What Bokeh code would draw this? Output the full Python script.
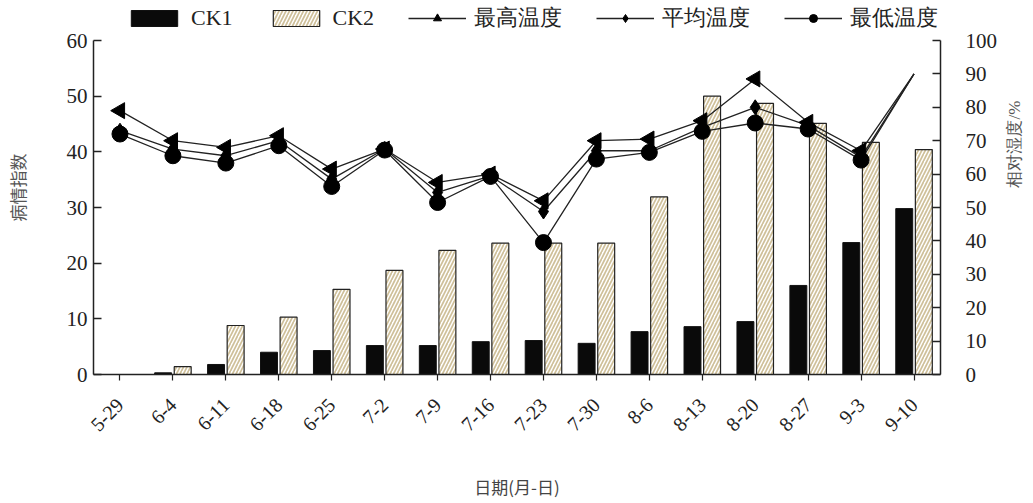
import math
from bokeh.plotting import figure
from bokeh.models import (ColumnDataSource, FactorRange, Range1d, LinearAxis, FixedTicker,
                          Legend, LegendItem, CDSView, IndexFilter)
from bokeh.transform import dodge
from bokeh.embed import file_html
from bokeh.resources import INLINE

dates = ["5-29", "6-4", "6-11", "6-18", "6-25", "7-2", "7-9", "7-16",
         "7-23", "7-30", "8-6", "8-13", "8-20", "8-27", "9-3", "9-10"]
ck1 = [0, 0.3, 1.8, 4.0, 4.3, 5.2, 5.2, 5.9, 6.1, 5.6, 7.7, 8.6, 9.5, 16.0, 23.7, 29.8]
ck2 = [0, 1.4, 8.8, 10.3, 15.3, 18.7, 22.3, 23.6, 23.6, 23.6, 31.9, 50.0, 48.7, 45.1, 41.7, 40.4]
t_max = [79, 70, 68, 71.5, 61.5, 67.5, 57.5, 60, 52, 70, 70.5, 76, 88.5, 75.5, 67, 90]
t_avg = [73, 67.5, 65.5, 70, 58.5, 67.5, 54.5, 59.5, 48.8, 67, 67, 74, 80, 74.5, 65, 90]
t_min = [72, 65.5, 63.3, 68.5, 56.3, 67.2, 51.5, 59.3, 39.5, 64.5, 66.5, 72.8, 75.3, 73.5, 64.2, 90]
left_ticks = [0, 10, 20, 30, 40, 50, 60]
right_ticks = [0, 10, 20, 30, 40, 50, 60, 70, 80, 90, 100]

src = ColumnDataSource(dict(date=dates, ck1=ck1, ck2=ck2, tmax=t_max, tavg=t_avg, tmin=t_min))

SERIF = "Liberation Serif"
CJK = "Noto Sans CJK SC"

# frame reaches the top of the canvas so the legend can sit above the axes' tops
p = figure(x_range=FactorRange(factors=dates), y_range=Range1d(0, 67.19),
           frame_width=847, frame_height=374, output_backend="svg", toolbar_location=None,
           min_border_left=93, min_border_right=80, min_border_top=0, min_border_bottom=126)
p.extra_y_ranges = {"hum": Range1d(0, 111.98)}
p.xgrid.visible = False
p.ygrid.visible = False
p.outline_line_color = None
p.background_fill_color = "white"

b1 = p.vbar(x=dodge("date", -0.185, range=p.x_range), top="ck1", width=0.32, source=src,
            fill_color="#0a0a0a", line_color="#111", line_width=1)
b2 = p.vbar(x=dodge("date", 0.185, range=p.x_range), top="ck2", width=0.32, source=src,
            fill_color="white", line_color="#222", line_width=1.2,
            hatch_pattern="/", hatch_color="#cfc09a", hatch_scale=7, hatch_weight=1.7)

view = CDSView(filter=IndexFilter(list(range(15))))
l_max = p.line(x="date", y="tmax", y_range_name="hum", source=src, line_color="#222", line_width=1.3)
l_avg = p.line(x="date", y="tavg", y_range_name="hum", source=src, line_color="#222", line_width=1.3)
l_min = p.line(x="date", y="tmin", y_range_name="hum", source=src, line_color="#222", line_width=1.3)
m_max = p.scatter(x="date", y="tmax", y_range_name="hum", source=src, view=view, marker="triangle",
                  angle=math.pi / 2, size=16, fill_color="black", line_color="black")
m_avg = p.scatter(x="date", y="tavg", y_range_name="hum", source=src, view=view, marker="diamond",
                  size=15, fill_color="black", line_color="black")
m_min = p.scatter(x="date", y="tmin", y_range_name="hum", source=src, view=view, marker="circle",
                  size=16, fill_color="black", line_color="black")

# left axis
ly = p.yaxis[0]
ly.ticker = FixedTicker(ticks=left_ticks)
ly.bounds = (0, 60)
ly.major_tick_in = 8
ly.major_tick_out = 0
ly.minor_tick_line_color = None
ly.axis_line_width = 1.5
ly.axis_line_color = "#222"
ly.major_tick_line_color = "#222"
ly.major_tick_line_width = 1.5
ly.major_label_text_font = SERIF
ly.major_label_text_font_size = "21px"
ly.major_label_text_color = "#222"
ly.major_label_standoff = 6
ly.axis_label = "病情指数"
ly.axis_label_text_font = CJK
ly.axis_label_text_font_size = "17px"
ly.axis_label_text_font_style = "normal"
ly.axis_label_text_color = "#555"
ly.axis_label_standoff = 34

# right axis
ry = LinearAxis(y_range_name="hum", ticker=FixedTicker(ticks=right_ticks))
ry.bounds = (0, 100)
ry.major_tick_in = 8
ry.major_tick_out = 0
ry.minor_tick_line_color = None
ry.axis_line_width = 1.5
ry.axis_line_color = "#222"
ry.major_tick_line_color = "#222"
ry.major_tick_line_width = 1.5
ry.major_label_text_font = SERIF
ry.major_label_text_font_size = "21px"
ry.major_label_text_color = "#222"
ry.major_label_standoff = 25
ry.axis_label = "相对湿度/%"
ry.axis_label_text_font = SERIF
ry.axis_label_text_font_size = "17px"
ry.axis_label_text_font_style = "normal"
ry.axis_label_text_color = "#555"
ry.axis_label_standoff = 14
try:
    ry.axis_label_orientation = math.pi / 2
except Exception:
    pass
p.add_layout(ry, "right")

# x axis
xa = p.xaxis[0]
xa.major_tick_in = 0
xa.major_tick_out = 6
xa.minor_tick_line_color = None
xa.axis_line_width = 1.5
xa.axis_line_color = "#222"
xa.major_tick_line_color = "#222"
xa.major_tick_line_width = 1.2
xa.major_label_orientation = math.pi / 4
xa.major_label_text_font = SERIF
xa.major_label_text_font_size = "20px"
xa.major_label_text_color = "#222"
xa.major_label_standoff = 21
xa.axis_label = "日期(月-日)"
xa.axis_label_text_font = CJK
xa.axis_label_text_font_size = "17px"
xa.axis_label_text_font_style = "normal"
xa.axis_label_text_color = "#444"
xa.axis_label_standoff = 34

legend = Legend(items=[
    LegendItem(label="CK1", renderers=[b1]),
    LegendItem(label="CK2", renderers=[b2]),
    LegendItem(label="最高温度", renderers=[l_max, m_max]),
    LegendItem(label="平均温度", renderers=[l_avg, m_avg]),
    LegendItem(label="最低温度", renderers=[l_min, m_min]),
], orientation="horizontal", location=(32, 341))
legend.border_line_alpha = 0
legend.background_fill_alpha = 0
legend.label_text_font = SERIF
legend.label_text_font_size = "22px"
legend.label_text_color = "#222"
legend.glyph_width = 58
legend.glyph_height = 20
legend.spacing = 34
legend.padding = 0
legend.margin = 0
legend.label_standoff = 8
p.add_layout(legend)

open("out.html", "w").write(file_html(p, INLINE))
